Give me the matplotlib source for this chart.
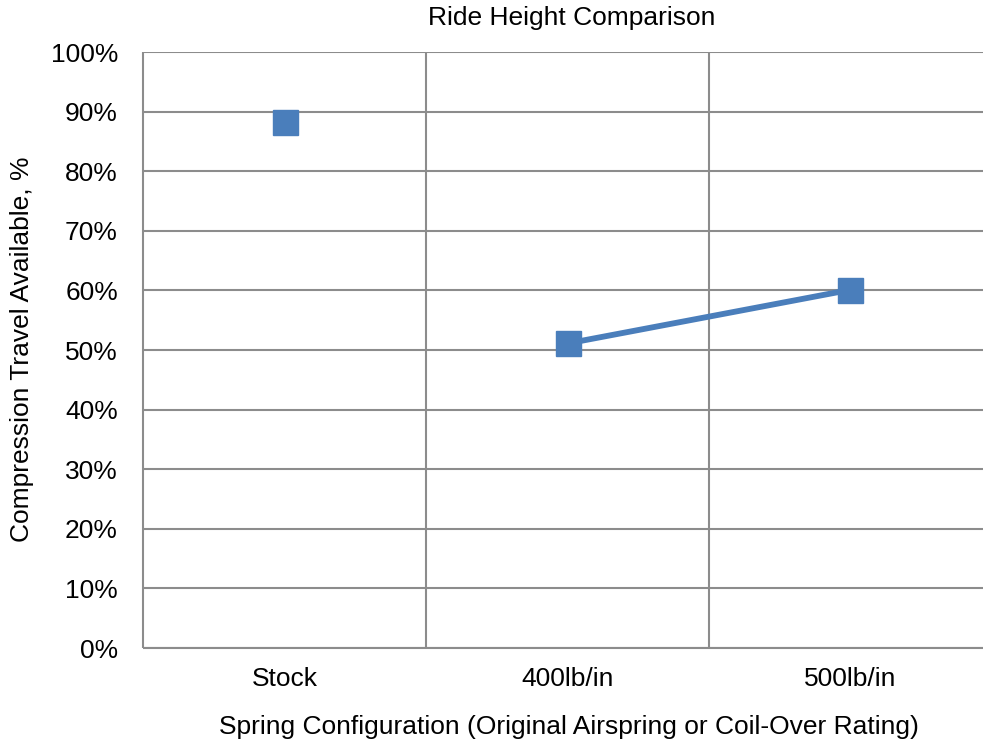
import numpy as np
from matplotlib import pyplot as plt
from matplotlib.ticker import FixedLocator, PercentFormatter

plt.rcParams['font.family'] = ['Liberation Sans', 'DejaVu Sans']

# spring setups and measured compression travel (fraction of full travel)
configs = ['Stock', '400lb/in', '500lb/in']
travel = [0.882, 0.511, 0.601]
# only the coil-over points are joined by a line
coil_idx = [1, 2]

blue = '#4a7ebb'
gridc = '#8c8c8c'

fig = plt.figure(figsize=(9.83, 7.44), dpi=100)
W, H = 983.0, 744.0
ax = fig.add_axes([143 / W, (H - 648) / H, 849 / W, 596 / H])

x = np.arange(len(configs))
ax.plot([x[i] for i in coil_idx], [travel[i] for i in coil_idx],
        color=blue, linewidth=4.2, solid_capstyle='butt', zorder=3)
ax.plot(x, travel, linestyle='none', marker='s', markersize=18,
        markerfacecolor=blue, markeredgecolor=blue, zorder=4)

ax.set_xlim(-0.5, len(configs) - 0.5)
ax.set_ylim(0, 1.0)
ax.set_yticks(np.arange(0, 1.01, 0.1))
ax.yaxis.set_major_formatter(PercentFormatter(1.0, decimals=0))
ax.set_xticks(x)
ax.set_xticklabels(configs)
ax.xaxis.set_minor_locator(FixedLocator([0.5, 1.5, 2.5]))

ax.grid(axis='y', which='major', color=gridc, linewidth=1.5)
ax.grid(axis='x', which='minor', color=gridc, linewidth=1.5)
ax.set_axisbelow(True)

for s in ['top', 'right']:
    ax.spines[s].set_visible(False)
for s in ['left', 'bottom']:
    ax.spines[s].set_color(gridc)
    ax.spines[s].set_linewidth(1.5)
    ax.spines[s].set_capstyle('butt')

ax.tick_params(axis='both', which='both', length=0, labelsize=19)
ax.tick_params(axis='y', pad=18)
ax.tick_params(axis='x', pad=14)

fig.text(572 / W, 1 - 18 / H, 'Ride Height Comparison', ha='center', va='center', fontsize=19)
fig.text(569 / W, 1 - 727 / H, 'Spring Configuration (Original Airspring or Coil-Over Rating)',
         ha='center', va='center', fontsize=19)
fig.text(22 / W, 1 - 349 / H, 'Compression Travel Available, %', ha='center', va='center',
         rotation=90, fontsize=19)

plt.savefig('out.png', dpi=100)
